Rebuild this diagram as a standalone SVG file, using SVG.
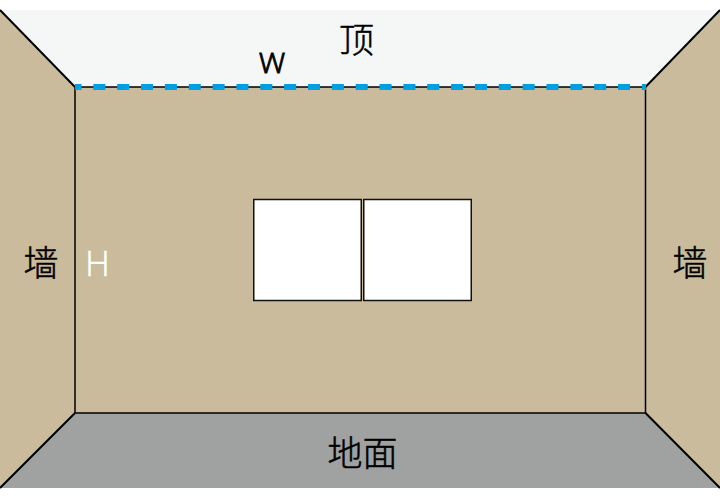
<svg xmlns="http://www.w3.org/2000/svg" width="720" height="500" viewBox="0 0 720 500">
<style>
.e{stroke:#000;stroke-width:1.5;fill:none}
.d{stroke:#000;stroke-width:2;fill:none}
.w{fill:#fff;stroke:#111;stroke-width:1.5}
.t{font-family:"Noto Sans CJK SC","Noto Sans",sans-serif;font-weight:300;font-size:35px;fill:#000;stroke:#000;stroke-width:.5px;text-anchor:middle}
.l{font-family:"Open Sans","Noto Sans",sans-serif;font-weight:300;text-anchor:middle}
</style>
<rect width="720" height="500" fill="#fff"/>
<g id="ceiling"><polygon points="0,10 720,10 645.500,87 75,87" fill="#f5f7f7"/><text class="t" x="356.500" y="53">顶</text></g>
<g id="wall-left"><polygon points="0,10 75,87 75,413 0,488" fill="#c9bb9b"/><text class="t" x="41" y="276">墙</text></g>
<g id="wall-back"><rect x="75" y="87" width="570.500" height="326" fill="#c9bb9b"/></g>
<g id="wall-right"><polygon points="720,10 645.500,87 645.500,413 720,488" fill="#c9bb9b"/><text class="t" x="690" y="276">墙</text></g>
<g id="floor"><polygon points="75,413 645.500,413 720,488 0,488" fill="#a0a2a2"/><text class="t" x="362.500" y="466">地面</text></g>
<g id="window"><rect class="w" x="253.750" y="199.500" width="107.500" height="101"/><rect class="w" x="363.750" y="199.500" width="107.500" height="101"/></g>
<g id="connectors">
<path class="e" d="M75,87H645.500M75,87V413M645.500,87V413M75,413H645.500"/>
<path class="d" d="M0,10 75,87M645.500,87 720,10M75,413 0,488M645.500,413 720,488"/>
<path d="M75,87H646" fill="none" stroke="#009fe3" stroke-width="6" stroke-dasharray="12 11.850" stroke-dashoffset="5.500"/>
</g>
<g id="labels">
<text class="l" x="272" y="73" font-size="36" fill="#000" stroke="#000" stroke-width=".8">w</text>
<text class="l" x="97.500" y="276" font-size="34" fill="#fff" stroke="#fff" stroke-width=".6">H</text>
</g>
</svg>
